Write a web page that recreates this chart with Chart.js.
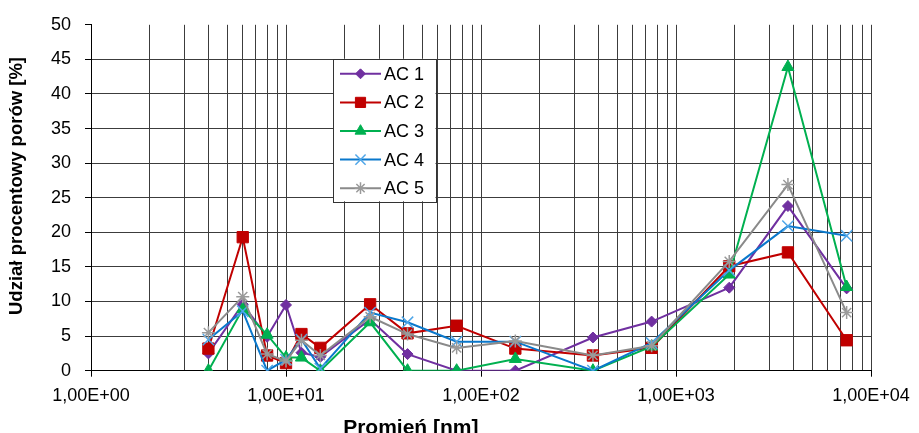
<!DOCTYPE html>
<html>
<head>
<meta charset="utf-8">
<script src="https://cdn.jsdelivr.net/npm/chart.js@4/dist/chart.umd.min.js"></script>
<style>
  html, body { margin: 0; padding: 0; background: #fff; }
  #c { display: block; }
</style>
</head>
<body>
<canvas id="c" width="919" height="433"></canvas>
<script>
// Pore radius [nm]
const radius = [4, 6, 8, 10, 12, 15, 27, 42, 75, 150, 375, 750, 1875, 3750, 7500];

// Share of pores [%] for each sample
const ac1 = [2.5, 9.6, 4.9, 9.5, 2.6, 2.0, 7.4, 2.4, 0.0, 0.0, 4.8, 7.1, 12.0, 23.8, 11.9];
const ac2 = [3.2, 19.3, 2.2, 1.1, 5.3, 3.3, 9.6, 5.4, 6.5, 3.2, 2.2, 3.3, 15.1, 17.1, 4.4];
const ac3 = [0.0, 8.9, 5.2, 1.9, 1.9, 0.0, 7.0, 0.0, 0.0, 1.7, 0.0, 3.5, 13.9, 43.9, 12.1];
const ac4 = [4.5, 8.6, 0.0, 1.6, 4.5, 0.3, 8.4, 7.0, 4.2, 4.2, 0.0, 4.0, 14.5, 20.9, 19.5];
const ac5 = [5.5, 10.7, 2.4, 1.4, 4.4, 2.2, 7.8, 5.3, 3.3, 4.3, 2.2, 3.6, 15.8, 26.9, 8.4];

const seriesNames = ['AC 1', 'AC 2', 'AC 3', 'AC 4', 'AC 5'];

// Axis ranges and tick values
const xMin = 1, xMax = 10000;
const yMin = 0, yMax = 50, yStep = 5;
const xTickValues = [];
for (let e = 0; e < 4; e++) {
  for (let s = 1; s <= 9; s++) xTickValues.push(s * Math.pow(10, e));
}
xTickValues.push(xMax);

const FONT = "'Liberation Sans', Arial, Helvetica, sans-serif";

const isDecade = v => Math.abs(Math.log10(v) - Math.round(Math.log10(v))) < 1e-9;
const sciLabel = v => {
  const e = Math.round(Math.log10(v));
  return '1,00E+' + String(e).padStart(2, '0');
};

const styles = [
  { line: '#7030A0', fill: '#7030A0', stroke: '#7030A0', point: 'rectRot', r: 5.5, bw: 1 },
  { line: '#C00000', fill: '#C00000', stroke: '#C00000', point: 'rect', r: 8, bw: 1 },
  { line: '#00B050', fill: '#00B050', stroke: '#00B050', point: 'triangle', r: 7, bw: 1 },
  { line: '#0A78CC', fill: 'rgba(0,0,0,0)', stroke: '#4FA6E8', point: 'crossRot', r: 8, bw: 1.5 },
  { line: '#8A8A8A', fill: 'rgba(0,0,0,0)', stroke: '#9A9A9A', point: 'star', r: 6.5, bw: 1.5 }
];

const values = [ac1, ac2, ac3, ac4, ac5];
const datasets = values.map((vals, i) => ({
  label: seriesNames[i],
  data: radius.map((r, k) => ({ x: r, y: vals[k] })),
  borderColor: styles[i].line,
  borderWidth: 2,
  tension: 0,
  pointStyle: styles[i].point,
  pointRadius: styles[i].r,
  pointHoverRadius: styles[i].r,
  pointBackgroundColor: styles[i].fill,
  pointBorderColor: styles[i].stroke,
  pointBorderWidth: styles[i].bw,
  order: values.length - i
}));

// Axis titles and the boxed legend inside the plot area
const decorations = {
  id: 'decorations',
  afterDraw(chart) {
    const ctx = chart.ctx;
    const ca = chart.chartArea;
    ctx.save();
    ctx.fillStyle = '#000';

    // x title
    ctx.font = 'bold 21px ' + FONT;
    ctx.textAlign = 'center';
    ctx.textBaseline = 'alphabetic';
    ctx.fillText('Promień [nm]', ca.left + (ca.right - ca.left) * 0.41, 434);

    // y title
    ctx.save();
    ctx.translate(17, 186);
    ctx.rotate(-Math.PI / 2);
    ctx.font = 'bold 18.5px ' + FONT;
    ctx.textAlign = 'center';
    ctx.textBaseline = 'middle';
    ctx.fillText('Udział procentowy porów [%]', 0, 0);
    ctx.restore();

    // legend box
    const lx = ca.left + 242, ly = ca.top + 34, lw = 102.5, lh = 142.5;
    ctx.fillStyle = '#fff';
    ctx.fillRect(lx, ly, lw, lh);
    ctx.strokeStyle = '#333';
    ctx.lineWidth = 1;
    ctx.strokeRect(Math.round(lx) + 0.5, Math.round(ly) + 0.5, Math.round(lw), Math.round(lh));

    const rowH = 28.6;
    chart.data.datasets.forEach((ds, i) => {
      const y = ly + 15 + i * rowH;
      const x0 = lx + 7, x1 = lx + 48;
      ctx.strokeStyle = ds.borderColor;
      ctx.lineWidth = 2;
      ctx.beginPath();
      ctx.moveTo(x0, y);
      ctx.lineTo(x1, y);
      ctx.stroke();

      ctx.fillStyle = ds.pointBackgroundColor;
      ctx.strokeStyle = ds.pointBorderColor;
      ctx.lineWidth = ds.pointBorderWidth;
      Chart.helpers.drawPoint(ctx, {
        pointStyle: ds.pointStyle,
        radius: ds.pointRadius * 0.9,
        rotation: 0,
        borderWidth: ds.pointBorderWidth
      }, (x0 + x1) / 2, y);

      ctx.fillStyle = '#000';
      ctx.font = '18px ' + FONT;
      ctx.textAlign = 'left';
      ctx.textBaseline = 'middle';
      ctx.fillText(ds.label, x1 + 3, y + 1);
    });
    ctx.restore();
  }
};

new Chart(document.getElementById('c'), {
  type: 'line',
  data: { datasets },
  plugins: [decorations],
  options: {
    responsive: false,
    animation: false,
    devicePixelRatio: 1,
    layout: { padding: { top: 20.7, right: 48, left: 0, bottom: 0 } },
    plugins: {
      legend: { display: false },
      tooltip: { enabled: false },
      title: { display: false }
    },
    scales: {
      x: {
        type: 'logarithmic',
        position: 'bottom',
        min: xMin,
        max: xMax,
        afterBuildTicks(scale) {
          scale.ticks = xTickValues.map(v => ({ value: v, major: false }));
        },
        afterFit(scale) { scale.height = 62.3; },
        ticks: {
          autoSkip: false,
          maxRotation: 0,
          minRotation: 0,
          padding: 9,
          color: '#000',
          font: { family: FONT, size: 18 },
          callback: v => (isDecade(v) ? sciLabel(v) : '')
        },
        grid: {
          color: ctx => (ctx.tick && ctx.tick.value === xMin ? 'rgba(0,0,0,0)' : '#3c3c3c'),
          lineWidth: 1,
          drawTicks: true,
          tickLength: 6,
          tickColor: ctx => (ctx.tick && isDecade(ctx.tick.value) ? '#000' : 'rgba(0,0,0,0)')
        },
        border: { display: true, color: '#000', width: 1 }
      },
      y: {
        type: 'linear',
        min: yMin,
        max: yMax,
        afterFit(scale) { scale.width = 91; },
        ticks: {
          stepSize: yStep,
          padding: 14,
          color: '#000',
          font: { family: FONT, size: 18 }
        },
        grid: {
          color: ctx => (ctx.tick && (ctx.tick.value === yMax || ctx.tick.value === yMin) ? 'rgba(0,0,0,0)' : '#3c3c3c'),
          lineWidth: 1,
          drawTicks: true,
          tickLength: 6,
          tickColor: '#000'
        },
        border: { display: true, color: '#000', width: 1 }
      }
    }
  }
});
</script>
</body>
</html>
